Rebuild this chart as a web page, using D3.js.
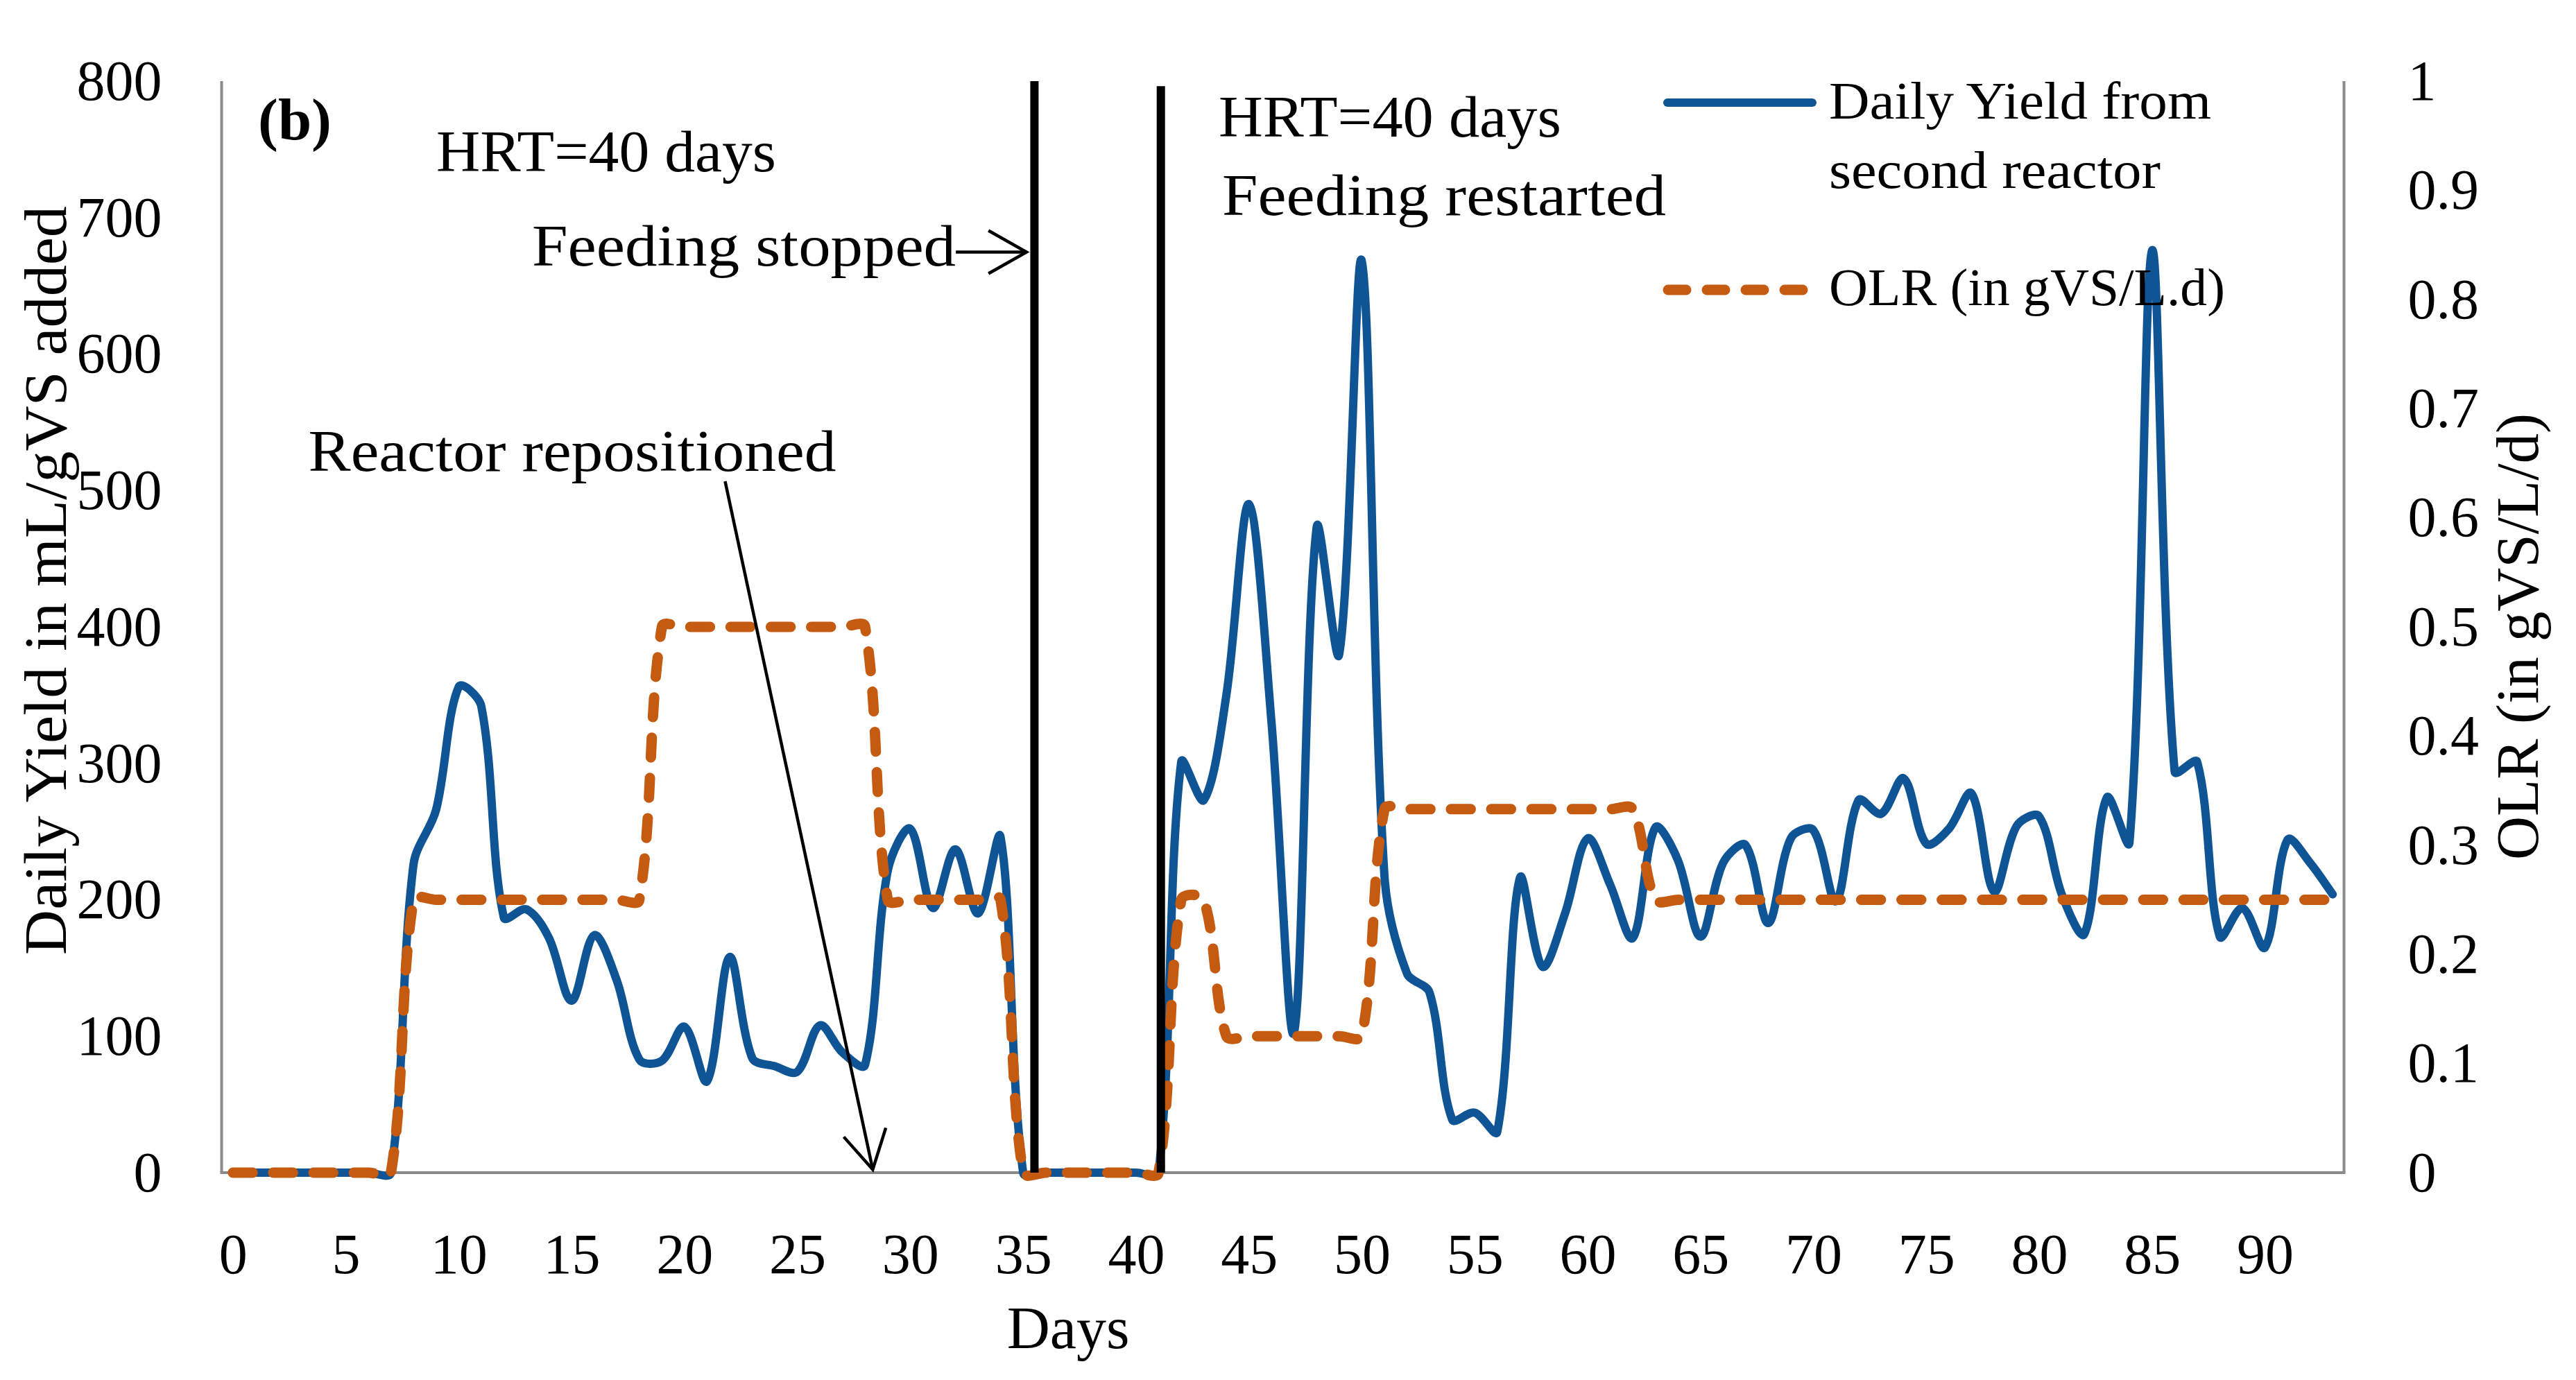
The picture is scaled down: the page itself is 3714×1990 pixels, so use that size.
<!DOCTYPE html>
<html><head><meta charset="utf-8">
<script src="https://cdn.jsdelivr.net/npm/d3@7"></script>
<style>
body{margin:0;background:#fff}
svg{display:block;background:#fff}
</style>
</head><body>
<svg id="chart" width="3714" height="1990"></svg>
<script>
// ---------- DATA ----------
const days = [0,1,2,3,4,5,6,7,8,9,10,11,12,13,14,15,16,17,18,19,20,21,22,23,24,25,26,27,28,29,30,31,32,33,34,35,36,37,38,39,40,41,42,43,44,45,46,47,48,49,50,51,52,53,54,55,56,57,58,59,60,61,62,63,64,65,66,67,68,69,70,71,72,73,74,75,76,77,78,79,80,81,82,83,84,85,86,87,88,89,90,91,92,93];

const dailyYield = [0,0,0,0,0,0,0,0,226,266,356,342,187,193,172,126,174,141,83,82,
  107,67,158,84,78,74,108,88,79,221,252,194,237,190,246,0,0,0,0,0,
  0,0,301,273,350,490,330,103,473,380,668,218,146,132,39,44,30,216,151,190,
  245,211,172,253,229,173,227,240,183,245,251,199,273,263,289,241,252,278,206,254,
  261,204,175,275,242,676,294,301,173,194,165,244,227,204];

const olr = [0,0,0,0,0,0,0,0,0.25,0.25,0.25,0.25,0.25,0.25,0.25,0.25,0.25,0.25,0.25,0.5,
  0.5,0.5,0.5,0.5,0.5,0.5,0.5,0.5,0.5,0.25,0.25,0.25,0.25,0.25,0.25,0,0,0,0,0,
  0,0,0.25,0.25,0.125,0.125,0.125,0.125,0.125,0.125,0.125,0.333,0.333,0.333,0.333,0.333,0.333,0.333,0.333,0.333,
  0.333,0.333,0.333,0.25,0.25,0.25,0.25,0.25,0.25,0.25,0.25,0.25,0.25,0.25,0.25,0.25,0.25,0.25,0.25,0.25,
  0.25,0.25,0.25,0.25,0.25,0.25,0.25,0.25,0.25,0.25,0.25,0.25,0.25,0.25];

const yieldTicks = [0,100,200,300,400,500,600,700,800];
const olrTicks = [0,0.1,0.2,0.3,0.4,0.5,0.6,0.7,0.8,0.9,1];
const dayTicks = [0,5,10,15,20,25,30,35,40,45,50,55,60,65,70,75,80,85,90];

const seriesNames = ["Daily Yield from", "second reactor", "OLR (in gVS/L.d)"];
const leftTitle = "Daily Yield in mL/gVS added";
const rightTitle = "OLR (in gVS/L/d)";
const xTitle = "Days";

// ---------- LAYOUT ----------
const FONT = '"Liberation Serif","Times New Roman",serif';
const BLUE = "#0f5494", ORANGE = "#c55a11", GRAY = "#8a8a8a";
const X0 = 319.5, X1 = 3379.5, Y0 = 1691, Y1 = 117;

const svg = d3.select("#chart");
svg.append("rect").attr("width",3714).attr("height",1990).attr("fill","#fff");

const x = d3.scalePoint().domain(days).range([X0, X1]).padding(0.5);
const xLin = d3.scaleLinear().domain([-0.5, days.length - 0.5]).range([X0, X1]);
const yL = d3.scaleLinear().domain([0, 800]).range([Y0, Y1]);
const yR = d3.scaleLinear().domain([0, 1]).range([Y0, Y1]);

// axes lines
svg.append("line").attr("x1",X0).attr("x2",X0).attr("y1",Y1).attr("y2",Y0).attr("stroke",GRAY).attr("stroke-width",4);
svg.append("line").attr("x1",X1).attr("x2",X1).attr("y1",Y1).attr("y2",Y0).attr("stroke",GRAY).attr("stroke-width",4);
svg.append("line").attr("x1",X0-2).attr("x2",X1+2).attr("y1",Y0).attr("y2",Y0).attr("stroke",GRAY).attr("stroke-width",4);

function styleAxis(g, size){
  g.select(".domain").remove();
  g.attr("font-family", FONT).attr("font-size", size);
  g.selectAll("text").attr("fill","#000");
}
const gL = svg.append("g").attr("transform",`translate(${X0},0)`)
  .call(d3.axisLeft(yL).tickValues(yieldTicks).tickSize(0).tickPadding(86).tickFormat(d3.format("d")));
styleAxis(gL, 82);
const gR = svg.append("g").attr("transform",`translate(${X1},0)`)
  .call(d3.axisRight(yR).tickValues(olrTicks).tickSize(0).tickPadding(92)
    .tickFormat(d => (d === 0 ? "0" : d === 1 ? "1" : d3.format(".1f")(d))));
styleAxis(gR, 82);
const gB = svg.append("g").attr("transform",`translate(0,${Y0})`)
  .call(d3.axisBottom(x).tickValues(dayTicks).tickSize(0).tickPadding(87));
styleAxis(gB, 82);

// titles
svg.append("text").attr("x",1540).attr("y",1944).attr("text-anchor","middle")
  .attr("font-family",FONT).attr("font-size",86).text(xTitle);
svg.append("text").attr("transform","translate(95,837) rotate(-90)").attr("text-anchor","middle")
  .attr("font-family",FONT).attr("font-size",86).attr("textLength",1080).attr("lengthAdjust","spacingAndGlyphs").text(leftTitle);
svg.append("text").attr("transform","translate(3659,918) rotate(-90)").attr("text-anchor","middle")
  .attr("font-family",FONT).attr("font-size",86).attr("textLength",644).attr("lengthAdjust","spacingAndGlyphs").text(rightTitle);

// spreadsheet-style smoothing: cardinal Bezier with tangent lengths weighted by segment lengths
function sheetSmooth(context){
  return {
    areaStart(){}, areaEnd(){},
    lineStart(){ this._p = []; },
    point(px, py){ this._p.push([+px, +py]); },
    lineEnd(){
      const p = this._p, n = p.length;
      if (!n) return;
      const dist = (a,b) => Math.hypot(b[0]-a[0], b[1]-a[1]);
      context.moveTo(p[0][0], p[0][1]);
      for (let i = 0; i < n - 1; i++){
        const p0 = p[i-1] || p[i], p1 = p[i], p2 = p[i+1], p3 = p[i+2] || p[i+1];
        const d01 = dist(p0,p1), d12 = dist(p1,p2), d23 = dist(p2,p3);
        const f1 = (d01 + d12) > 0 ? d12 / (d01 + d12) / 3 : 0;
        const f2 = (d12 + d23) > 0 ? d12 / (d12 + d23) / 3 : 0;
        const c1 = [p1[0] + (p2[0]-p0[0])*f1, p1[1] + (p2[1]-p0[1])*f1];
        const c2 = [p2[0] - (p3[0]-p1[0])*f2, p2[1] - (p3[1]-p1[1])*f2];
        context.bezierCurveTo(c1[0], c1[1], c2[0], c2[1], p2[0], p2[1]);
      }
    }
  };
}

const lineY = d3.line().x((d,i)=>x(days[i])).y(d=>yL(d)).curve(sheetSmooth);
const lineO = d3.line().x((d,i)=>x(days[i])).y(d=>yR(d)).curve(sheetSmooth);

svg.append("path").datum(dailyYield).attr("d",lineY).attr("fill","none")
  .attr("stroke",BLUE).attr("stroke-width",12).attr("stroke-linejoin","round").attr("stroke-linecap","round");
svg.append("path").datum(olr).attr("d",lineO).attr("fill","none")
  .attr("stroke",ORANGE).attr("stroke-width",15).attr("stroke-dasharray","28.5 29.6")
  .attr("stroke-linecap","round").attr("stroke-linejoin","round");

// feeding stop / restart markers
const feedMarkers = [{day:35.5, top:800}, {day:41.1, top:796.3}];
svg.selectAll(".feed").data(feedMarkers).enter().append("line")
  .attr("x1",d=>xLin(d.day)).attr("x2",d=>xLin(d.day))
  .attr("y1",d=>yL(d.top)).attr("y2",Y0)
  .attr("stroke","#000").attr("stroke-width",12);

// arrows
function arrow(p1, p2){
  const x1 = xLin(p1.day), y1 = yL(p1.v), x2 = xLin(p2.day), y2 = yL(p2.v);
  svg.append("line").attr("x1",x1).attr("y1",y1).attr("x2",x2).attr("y2",y2)
    .attr("stroke","#000").attr("stroke-width",4.5);
  const ang = Math.atan2(y1-y2, x1-x2), a = 29.5*Math.PI/180, L = 63;
  const p = `M${x2+L*Math.cos(ang+a)},${y2+L*Math.sin(ang+a)}L${x2},${y2}L${x2+L*Math.cos(ang-a)},${y2+L*Math.sin(ang-a)}`;
  svg.append("path").attr("d",p).attr("fill","none").attr("stroke","#000").attr("stroke-width",4.5);
}
arrow({day:21.80, v:506.7}, {day:28.34, v:2.3});
arrow({day:32.02, v:674.7}, {day:35.15, v:674.7});

// annotation texts
const notes = [
  {t:"(b)", x:372, y:201, len:106, bold:true},
  {t:"HRT=40 days", x:629, y:247, len:490},
  {t:"Feeding stopped", x:767, y:383, len:611},
  {t:"HRT=40 days", x:1757, y:197, len:494},
  {t:"Feeding restarted", x:1762, y:310, len:640},
  {t:"Reactor repositioned", x:444.5, y:679, len:761}
];
svg.selectAll(".note").data(notes).enter().append("text")
  .attr("x",d=>d.x).attr("y",d=>d.y).attr("font-family",FONT).attr("font-size",84)
  .attr("font-weight",d=>d.bold?"bold":"normal")
  .attr("textLength",d=>d.len).attr("lengthAdjust","spacingAndGlyphs").text(d=>d.t);

// legend
svg.append("line").attr("x1",2404).attr("x2",2613).attr("y1",148).attr("y2",148)
  .attr("stroke",BLUE).attr("stroke-width",12).attr("stroke-linecap","round");
svg.append("line").attr("x1",2405).attr("x2",2606).attr("y1",418).attr("y2",418)
  .attr("stroke",ORANGE).attr("stroke-width",15).attr("stroke-dasharray","26 30").attr("stroke-linecap","round");
const legendTexts = [
  {t:seriesNames[0], y:171, len:551},
  {t:seriesNames[1], y:271, len:478},
  {t:seriesNames[2], y:440, len:571}
];
svg.selectAll(".leg").data(legendTexts).enter().append("text")
  .attr("x",2637).attr("y",d=>d.y).attr("font-family",FONT).attr("font-size",77)
  .attr("textLength",d=>d.len).attr("lengthAdjust","spacingAndGlyphs").text(d=>d.t);
</script>
</body></html>
